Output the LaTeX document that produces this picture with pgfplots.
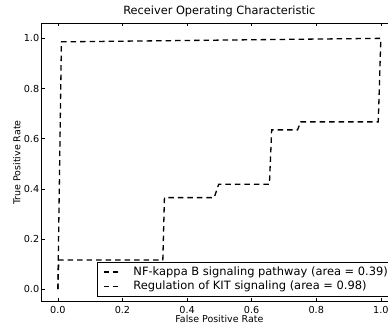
\documentclass[border=0pt]{standalone}
\usepackage{fontspec}
\setmainfont{DejaVu Sans}
\usepackage{pgfplots}
\pgfplotsset{compat=1.18}
\begin{document}
\begin{tikzpicture}
\begin{axis}[
  at={(0,0)}, anchor=south west,
  scale only axis, width=355.3bp, height=278.4bp,
  xmin=-0.05, xmax=1.05, ymin=-0.05, ymax=1.06,
  xtick={0,0.2,0.4,0.6,0.8,1.0}, ytick={0,0.2,0.4,0.6,0.8,1.0},
  /pgf/number format/fixed, /pgf/number format/fixed zerofill,
  /pgf/number format/precision=1, /pgf/number format/assume math mode=true,
  axis line style={line width=1bp},
  major tick length=3.2bp,
  tick style={black, line width=0.6bp},
  tick align=inside,
  ticklabel style={font=\fontsize{9.7}{11}\selectfont},
  xticklabel style={yshift=-1.5bp},
  yticklabel style={xshift=1bp},
  title={Receiver Operating Characteristic},
  title style={font=\fontsize{11.4}{13}\selectfont, at={(axis description cs:0.5,1)}, anchor=base, yshift=3.3bp},
  xlabel={False Positive Rate}, ylabel={True Positive Rate},
  xlabel style={font=\fontsize{9.5}{11}\selectfont, at={(axis description cs:0.5,0)}, anchor=north, inner sep=0pt, yshift=-13.6bp},
  ylabel style={font=\fontsize{9.5}{11}\selectfont, at={(axis description cs:-0.0808,0.5)}, anchor=north, inner sep=0pt},
  legend style={at={(axis description cs:0.1548,0.018)}, anchor=south west, draw=black, line width=0.9bp, fill=white,
    font=\fontsize{11.5}{13}\selectfont, inner xsep=6.6bp, inner ysep=4.8bp, row sep=4bp,
    nodes={inner sep=0pt},
    /tikz/every odd column/.append style={column sep=15bp}},
  legend cell align=left,
  legend image code/.code={
    \draw[black, line width=1.3bp] (0bp,0bp) -- (5bp,0bp);
    \draw[black, line width=1.3bp] (8.4bp,0bp) -- (13.4bp,0bp);},
]
\addplot[black, line width=1.3bp, dash pattern=on 5.5bp off 4bp] coordinates {
 (0,0) (0.003,0.116) (0.325,0.116) (0.330,0.365) (0.484,0.365) (0.498,0.418)
 (0.655,0.418) (0.662,0.635) (0.742,0.635) (0.752,0.667) (0.992,0.667) (1.0,1.0)};
\addlegendentry{NF-kappa B signaling pathway (area = 0.39)}
\addplot[black, line width=1.3bp, dash pattern=on 5.5bp off 4bp] coordinates {
 (0,0) (0.011,0.986) (1.0,1.0)};
\addlegendentry{Regulation of KIT signaling (area = 0.98)}
\end{axis}
\pgfresetboundingbox
\useasboundingbox (-41.7bp,-22.3bp) rectangle (346.3bp,301.7bp);
\end{tikzpicture}
\end{document}
